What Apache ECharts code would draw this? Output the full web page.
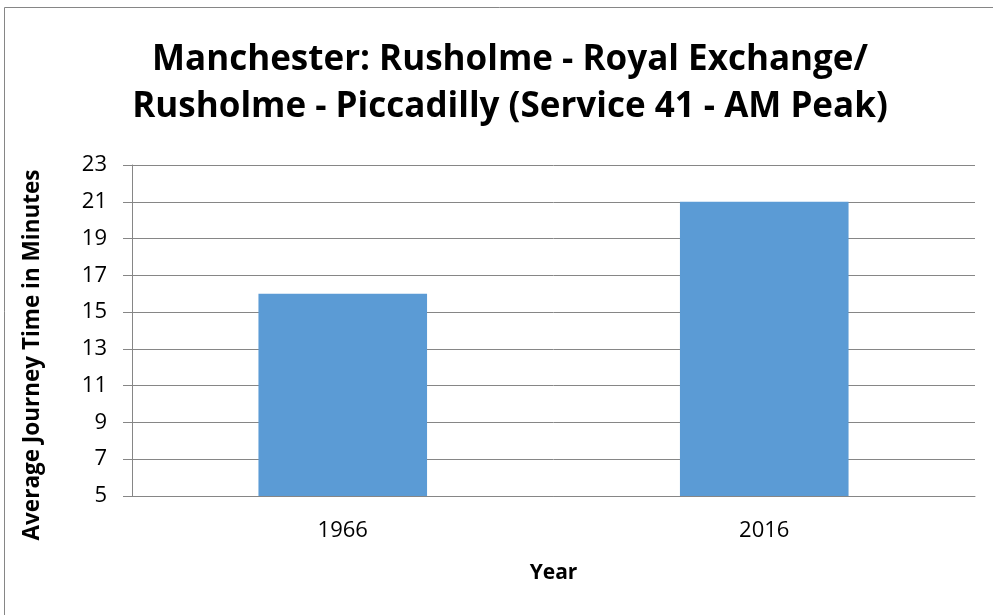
<!DOCTYPE html>
<html>
<head>
<meta charset="utf-8">
<script src="https://cdn.jsdelivr.net/npm/echarts@6/dist/echarts.min.js"></script>
<style>
html,body{margin:0;padding:0;background:#fff;}
#chart{width:993px;height:615px;}
</style>
</head>
<body>
<div id="chart"></div>
<script>
var categories = ['1966', '2016'];
var journeyMinutes = [16, 21];
var yTicks = [5, 7, 9, 11, 13, 15, 17, 19, 21, 23];
var titleLines = ['Manchester: Rusholme - Royal Exchange/', 'Rusholme - Piccadilly (Service 41 - AM Peak)'];
var xAxisTitle = 'Year';
var yAxisTitle = 'Average Journey Time in Minutes';

var chart = echarts.init(document.getElementById('chart'), null, {renderer: 'canvas'});
var font = '"Open Sans", "Noto Sans", sans-serif';
chart.setOption({
  animation: false,
  backgroundColor: '#fff',
  title: {
    text: titleLines.join('\n'),
    left: 505,
    top: 32,
    textAlign: 'center',
    textStyle: {fontFamily: font, fontWeight: 'bold', fontSize: 35, lineHeight: 47, color: '#000'}
  },
  graphic: [
    {type: 'rect', shape: {x: 4.5, y: 7.5, width: 1100, height: 700}, style: {fill: 'none', stroke: '#868686', lineWidth: 1}, silent: true},
    {type: 'text', x: 33, y: 355, rotation: Math.PI / 2,
     style: {text: yAxisTitle, fontFamily: font, fontWeight: 'bold', fontSize: 22.5, fill: '#000', align: 'center', verticalAlign: 'middle'}}
  ],
  grid: {left: 132, right: 18, top: 165, bottom: 119, containLabel: false},
  xAxis: {
    type: 'category',
    data: categories,
    name: xAxisTitle,
    nameLocation: 'middle',
    nameGap: 67,
    nameTextStyle: {fontFamily: font, fontWeight: 'bold', fontSize: 21, color: '#000'},
    axisLine: {lineStyle: {color: '#868686', width: 1}},
    axisTick: {show: false},
    axisLabel: {fontFamily: font, fontSize: 22, color: '#000', margin: 24}
  },
  yAxis: {
    type: 'value',
    min: yTicks[0],
    max: yTicks[yTicks.length - 1],
    interval: 2,
    axisLine: {show: true, lineStyle: {color: '#868686', width: 1}},
    axisTick: {show: true, length: 9, lineStyle: {color: '#868686'}},
    splitLine: {lineStyle: {color: '#868686', width: 1}},
    axisLabel: {fontFamily: font, fontSize: 22, color: '#000', margin: 25}
  },
  series: [{
    type: 'bar',
    data: journeyMinutes,
    barWidth: '40%',
    itemStyle: {color: '#5B9BD5'}
  }]
});
</script>
</body>
</html>
